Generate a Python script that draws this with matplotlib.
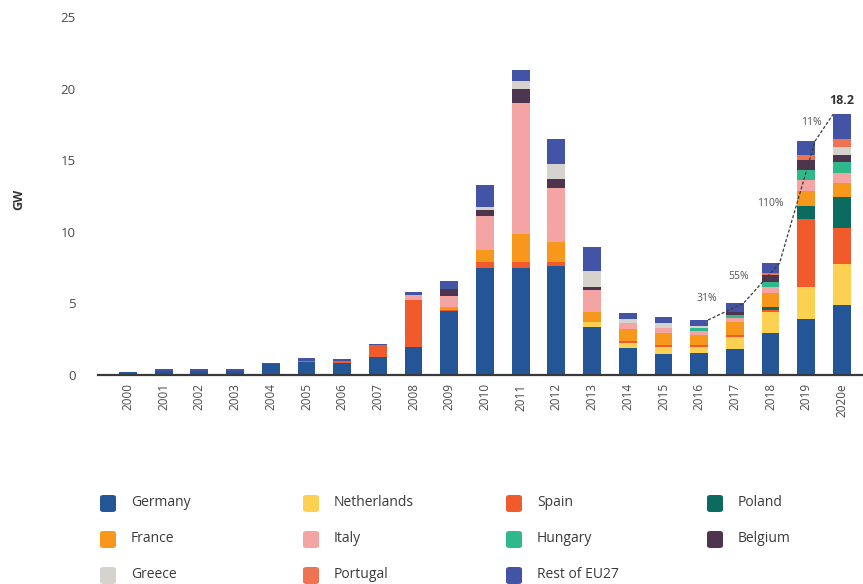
import numpy as np
import matplotlib
matplotlib.use("Agg")
import matplotlib.pyplot as plt
from matplotlib.patches import FancyBboxPatch

plt.rcParams['font.family'] = ['Open Sans', 'DejaVu Sans']

years = ['2000', '2001', '2002', '2003', '2004', '2005', '2006', '2007', '2008', '2009',
         '2010', '2011', '2012', '2013', '2014', '2015', '2016', '2017', '2018', '2019', '2020e']

# yearly installations per country, GW (stacked bottom to top in this order)
germany     = [0.18, 0.30, 0.30, 0.30, 0.80, 0.90, 0.85, 1.28, 1.95, 4.45,
               7.44, 7.45, 7.63, 3.37, 1.90, 1.47, 1.56, 1.81, 2.90, 3.88, 4.88]
netherlands = [0, 0, 0, 0, 0, 0, 0, 0, 0, 0,
               0, 0, 0, 0.33, 0.33, 0.48, 0.42, 0.82, 1.47, 2.28, 2.84]
spain       = [0, 0, 0, 0, 0, 0.10, 0.10, 0.82, 3.28, 0.10,
               0.46, 0.45, 0.27, 0, 0.14, 0.15, 0.12, 0.17, 0.20, 4.70, 2.56]
poland      = [0, 0, 0, 0, 0, 0, 0, 0, 0, 0,
               0, 0, 0, 0, 0, 0, 0, 0, 0.20, 0.93, 2.16]
france      = [0, 0, 0, 0, 0, 0, 0, 0, 0, 0.22,
               0.82, 1.95, 1.40, 0.72, 0.83, 0.83, 0.70, 0.92, 0.98, 1.07, 0.98]
italy       = [0, 0, 0, 0, 0, 0, 0, 0, 0.35, 0.73,
               2.38, 9.15, 3.75, 1.50, 0.45, 0.37, 0.30, 0.23, 0.41, 0.74, 0.70]
hungary     = [0, 0, 0, 0, 0, 0, 0, 0, 0, 0,
               0, 0, 0, 0, 0, 0, 0.15, 0.25, 0.34, 0.75, 0.77]
belgium     = [0, 0, 0, 0, 0, 0, 0, 0, 0, 0.50,
               0.40, 1.00, 0.65, 0.23, 0, 0, 0, 0.22, 0.48, 0.65, 0.46]
greece      = [0, 0, 0, 0, 0, 0, 0, 0, 0, 0,
               0.25, 0.50, 1.00, 1.10, 0.25, 0.30, 0.15, 0, 0, 0, 0.58]
portugal    = [0, 0, 0, 0, 0, 0, 0, 0, 0, 0,
               0, 0, 0, 0, 0, 0, 0, 0, 0.12, 0.35, 0.52]
rest_eu27   = [0.05, 0.10, 0.10, 0.10, 0.02, 0.16, 0.20, 0.05, 0.20, 0.55,
               1.55, 0.80, 1.80, 1.70, 0.45, 0.47, 0.44, 0.61, 0.70, 1.00, 1.75]

series = [
    ('Germany', germany, '#245597'),
    ('Netherlands', netherlands, '#fcd152'),
    ('Spain', spain, '#f15a2b'),
    ('Poland', poland, '#0b6b5f'),
    ('France', france, '#f7981d'),
    ('Italy', italy, '#f5a4a4'),
    ('Hungary', hungary, '#2fb98b'),
    ('Belgium', belgium, '#4d3550'),
    ('Greece', greece, '#d6d2ce'),
    ('Portugal', portugal, '#ee7353'),
    ('Rest of EU27', rest_eu27, '#4353a6'),
]

# legend layout, read row by row
legend_rows = [['Germany', 'Netherlands', 'Spain', 'Poland'],
               ['France', 'Italy', 'Hungary', 'Belgium'],
               ['Greece', 'Portugal', 'Rest of EU27']]

growth_years = ['2016', '2017', '2018', '2019', '2020e']

W, H = 863, 584
fig = plt.figure(figsize=(W / 100, H / 100), dpi=100)
ax = fig.add_axes([98 / W, 209 / H, 765 / W, 358 / H])

x = np.arange(len(years))
width = 0.5
bottom = np.zeros(len(years))
for name, vals, col in series:
    vals = np.array(vals)
    ax.bar(x, vals, width, bottom=bottom, color=col, linewidth=0, label=name)
    bottom += vals
totals = bottom

ax.set_xlim(-0.84, 20.59)
ax.set_ylim(0, 25)
ax.set_yticks([0, 5, 10, 15, 20, 25])
ax.set_xticks(x)
ax.set_xticklabels(years, rotation=90, fontsize=8.5, color='#4a4a4a')
ax.tick_params(axis='y', length=0, pad=16, labelsize=9.5, labelcolor='#4a4a4a')
ax.tick_params(axis='x', length=0, pad=6)
for s in ['top', 'right', 'left']:
    ax.spines[s].set_visible(False)
ax.spines['bottom'].set_color('#3a3a3a')
ax.spines['bottom'].set_linewidth(1.6)
ax.set_ylabel('GW', fontsize=9, fontweight='bold', color='#333333')
ax.yaxis.set_label_coords(-0.095, 0.49)

# growth line across the last five years
idx = [years.index(y) for y in growth_years]
lx = [i + width / 2 for i in idx[:-1]] + [idx[-1] - width / 2]
ly = [totals[i] for i in idx]
ax.plot(lx, ly, ls=(0, (2.5, 1.5)), color='#3a3a3a', lw=0.9)

offsets = [(-6, 9), (-9, 5), (-10, -1), (-2, 4)]
for k in range(len(idx) - 1):
    pct = round((totals[idx[k + 1]] / totals[idx[k]] - 1) * 100)
    mx = (lx[k] + lx[k + 1]) / 2
    my = (ly[k] + ly[k + 1]) / 2
    ax.annotate(f'{pct}%', (mx, my), xytext=offsets[k], textcoords='offset points',
                ha='right', va='center', fontsize=7.5, color='#555555')

ax.annotate(f'{totals[idx[-1]]:.1f}', (idx[-1], totals[idx[-1]]), xytext=(0, 5),
            textcoords='offset points', ha='center', va='bottom',
            fontsize=9, fontweight='bold', color='#333333')

# legend drawn as a grid of rounded swatches
colors = {name: col for name, _, col in series}
col_x = [100, 303, 506, 707]
row_y = [503, 539, 575]
for r, row in enumerate(legend_rows):
    for c, name in enumerate(row):
        px, py = col_x[c], row_y[r]
        fig.patches.append(FancyBboxPatch(
            (px / W, (H - py - 9) / H), 16 / W, 17 / H,
            boxstyle='round,pad=0,rounding_size=0.004',
            transform=fig.transFigure, color=colors[name], lw=0))
        fig.text((px + 31) / W, (H - py) / H, name, fontsize=10, color='#3a3a3a',
                 ha='left', va='center')

fig.savefig('out.png', dpi=100)
